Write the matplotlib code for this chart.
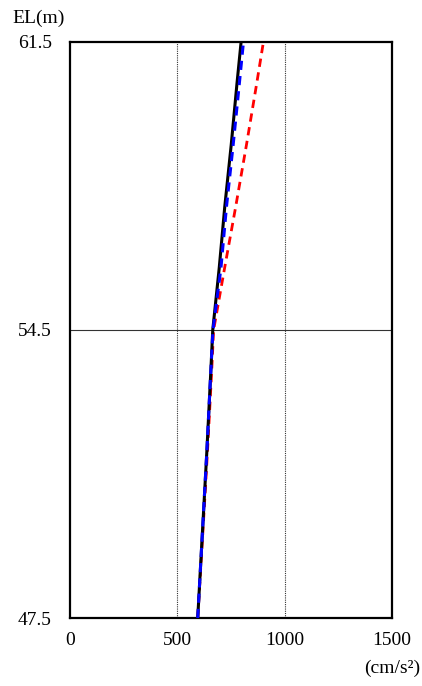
import matplotlib.pyplot as plt

plt.rcParams["font.family"] = ["Liberation Serif", "DejaVu Serif"]

# 標高 (m)
elevations = [47.5, 49.5, 51.5, 53.5, 54.5, 56.0, 57.5, 59.0, 60.5, 61.5]
# 最大加速度 (cm/s2)
acc_black = [595, 616, 637, 656, 665, 695, 721, 751, 778, 797]
acc_blue = [595, 616, 637, 656, 666, 703, 729, 760, 789, 808]
acc_red = [595, 618, 640, 660, 669, 720, 772, 822, 870, 901]

x_ticks = [0, 500, 1000, 1500]
y_ticks = [47.5, 54.5, 61.5]

fig = plt.figure(figsize=(4.22, 6.86), dpi=100)
ax = fig.add_axes([70 / 422, 68 / 686, 322 / 422, 576 / 686])

ax.plot(acc_black, elevations, color="black", lw=2.2, zorder=3)
ax.plot(acc_blue, elevations, color="#0000ff", lw=2.2, ls=(0, (3, 2)), zorder=4)
ax.plot(acc_red, elevations, color="#ff0000", lw=2.0, ls=(0, (3, 2)), zorder=2)

ax.set_xlim(0, 1500)
ax.set_ylim(47.5, 61.5)

for xv in [500, 1000]:
    ax.axvline(xv, color="#333333", lw=0.8, ls=(0, (1, 1)), zorder=1)
ax.axhline(54.5, color="#333333", lw=0.8, zorder=1)

ax.set_xticks(x_ticks)
ax.set_xticklabels([str(v) for v in x_ticks], fontsize=14)
ax.set_yticks(y_ticks)
ax.set_yticklabels([f"{v:.1f}" for v in y_ticks], fontsize=14)
ax.tick_params(axis="y", length=0, pad=13)
ax.tick_params(axis="x", length=0, pad=10)

for spine in ax.spines.values():
    spine.set_linewidth(1.6)
    spine.set_color("black")

fig.text(12 / 422, 1 - 18 / 686, "EL(m)", fontsize=14, va="center", ha="left")
fig.text(420 / 422, 1 - 668 / 686, "(cm/s²)", fontsize=14, va="center", ha="right")

plt.savefig("out.png", dpi=100)
plt.close()
